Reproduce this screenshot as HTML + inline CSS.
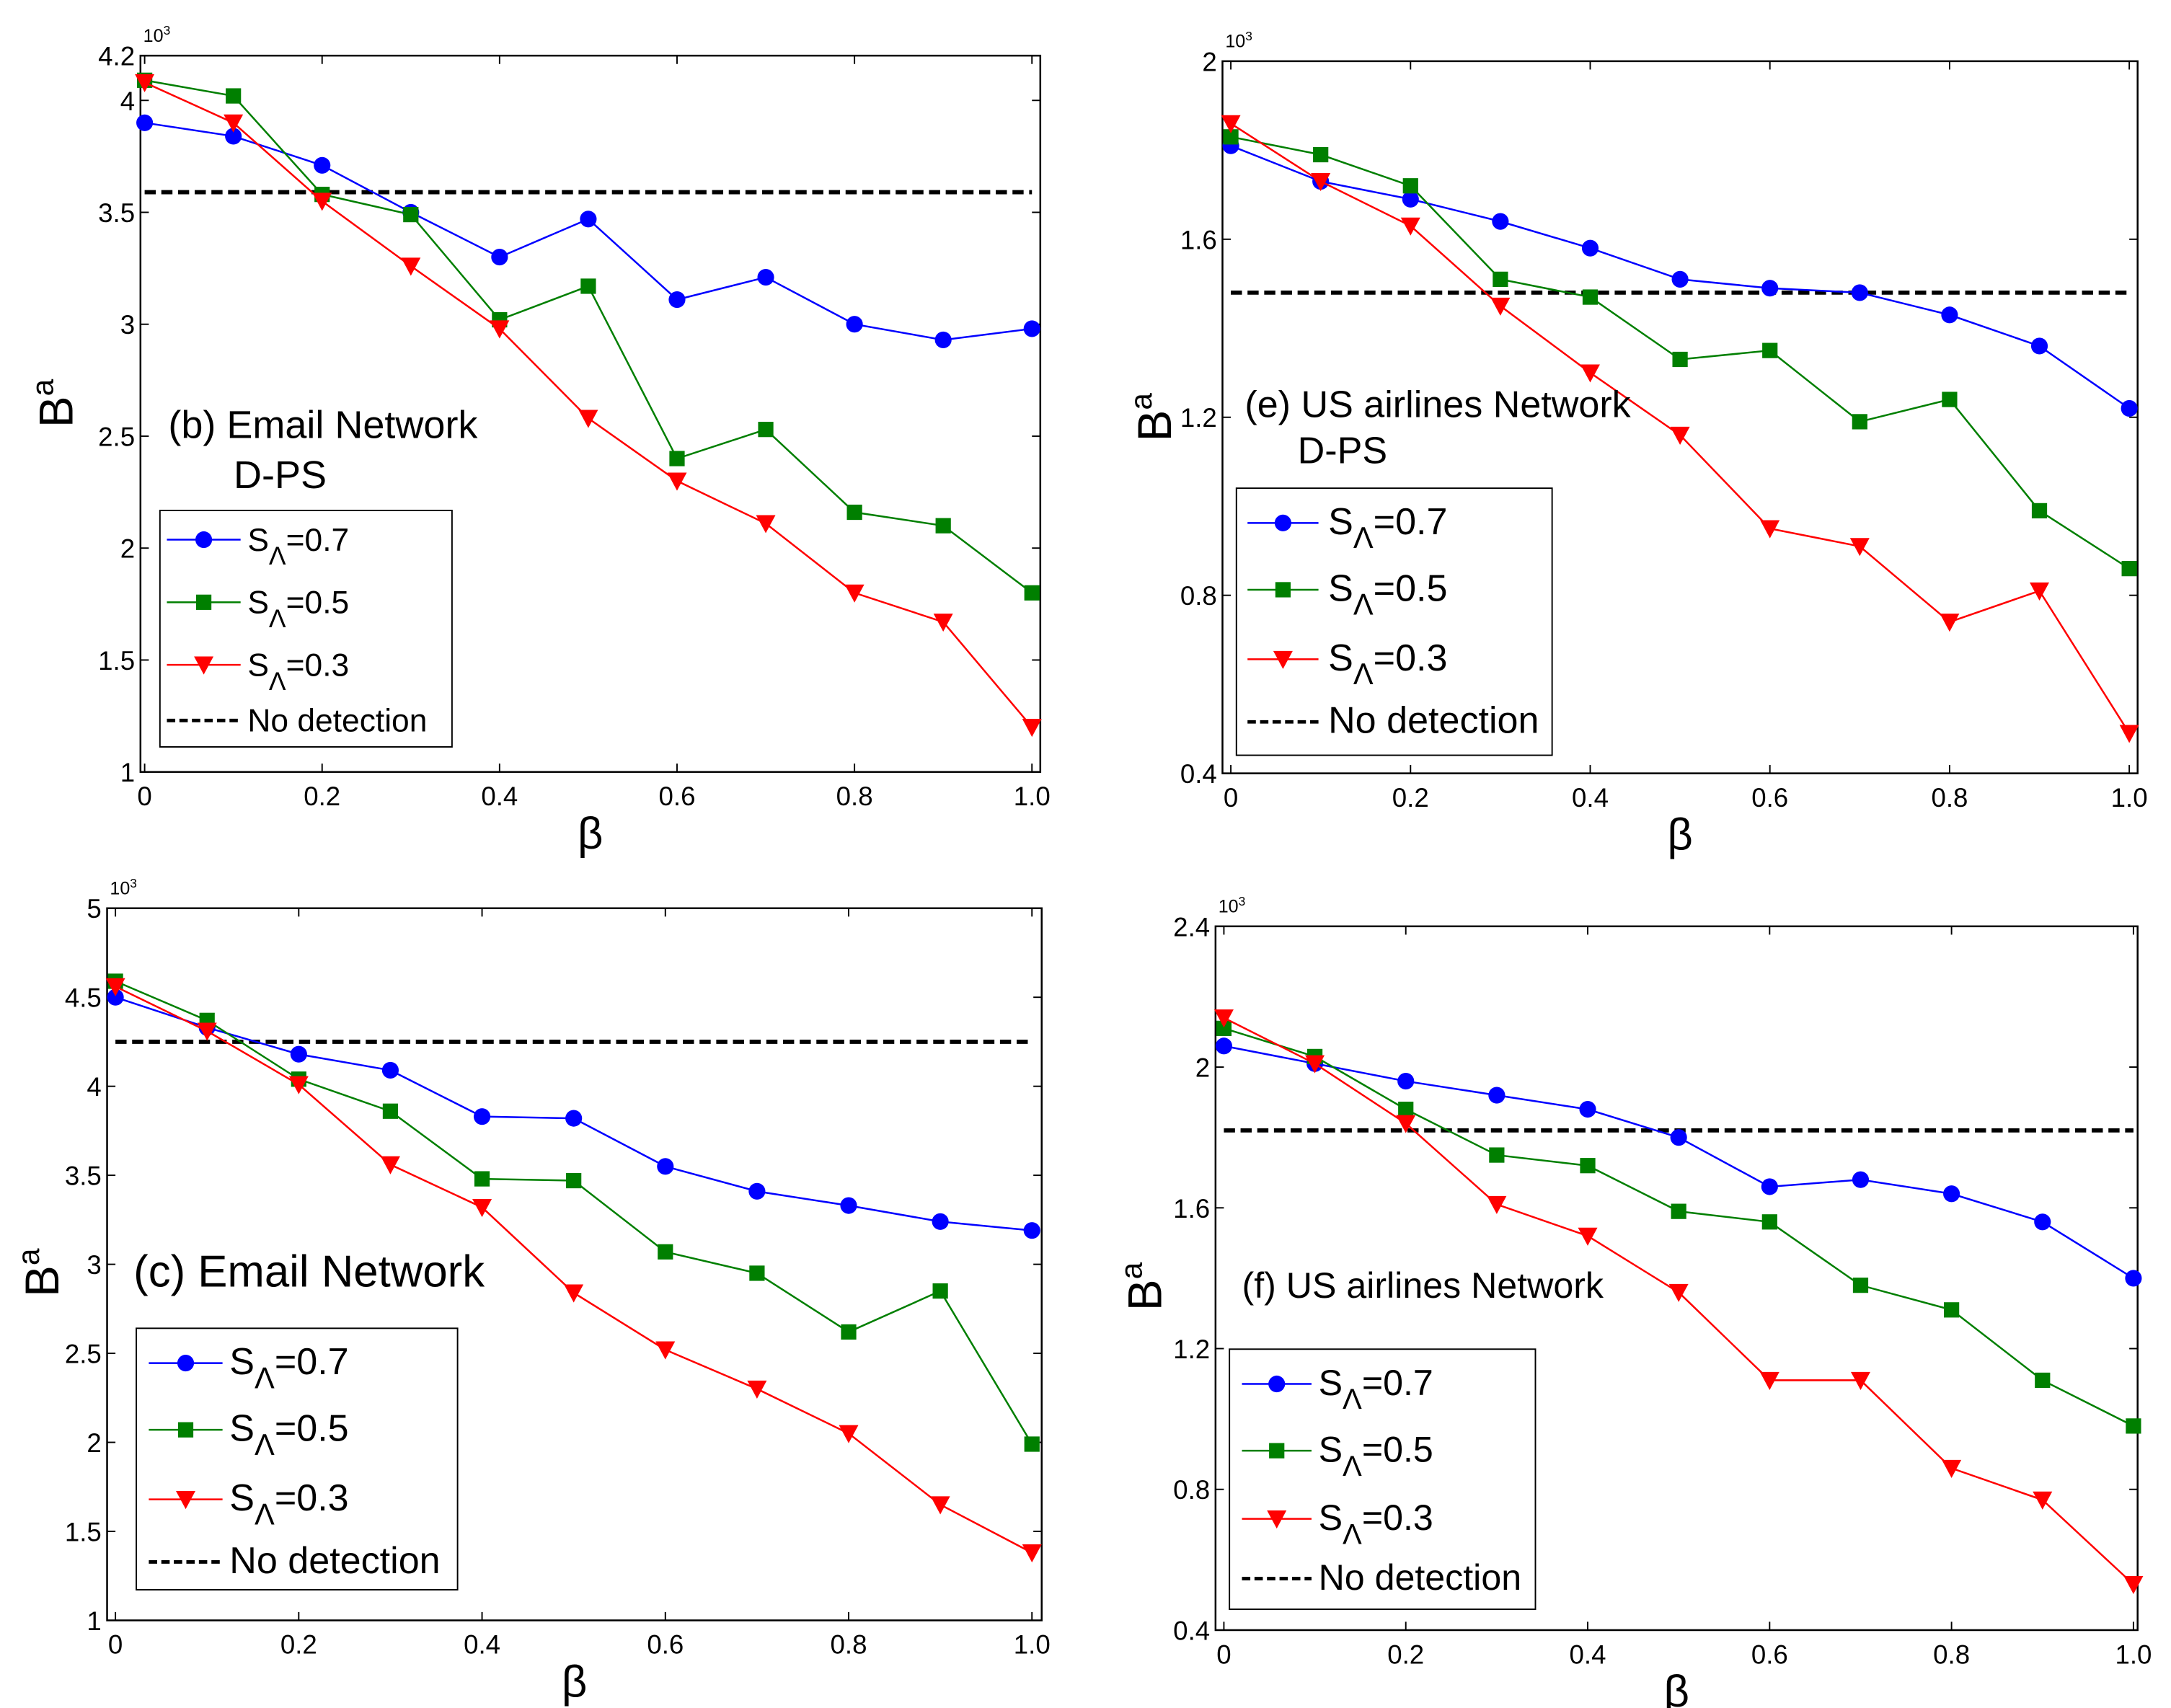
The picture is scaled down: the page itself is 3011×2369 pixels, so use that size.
<!DOCTYPE html>
<html><head><meta charset="utf-8"><style>
html,body{margin:0;padding:0;background:#fff;}
svg{display:block;font-family:"Liberation Sans",Arial,sans-serif;}
</style></head><body>
<svg id="fig" width="3011" height="2369" viewBox="0 0 1561 1228" preserveAspectRatio="none" xmlns="http://www.w3.org/2000/svg"></svg>
<script>
const betas = [0,0.1,0.2,0.3,0.4,0.5,0.6,0.7,0.8,0.9,1.0];
const xTickLabels = ["0","0.2","0.4","0.6","0.8","1.0"];
const xTickValues = [0,0.2,0.4,0.6,0.8,1.0];
// Panel b
const bBlue = [3.9,3.84,3.71,3.5,3.3,3.47,3.11,3.21,3.0,2.93,2.98];
const bGreen = [4.09,4.02,3.58,3.49,3.02,3.17,2.4,2.53,2.16,2.1,1.8];
const bRed = [4.08,3.9,3.55,3.26,2.98,2.58,2.3,2.11,1.8,1.67,1.2];
const bNoDet = 3.59;
const bYTicks = [1,1.5,2,2.5,3,3.5,4,4.2];
const bYLabels = ["1","1.5","2","2.5","3","3.5","4","4.2"];
// Panel e
const eBlue = [1.81,1.73,1.69,1.64,1.58,1.51,1.49,1.48,1.43,1.36,1.22];
const eGreen = [1.83,1.79,1.72,1.51,1.47,1.33,1.35,1.19,1.24,0.99,0.86];
const eRed = [1.86,1.73,1.63,1.45,1.30,1.16,0.95,0.91,0.74,0.81,0.49];
const eNoDet = 1.48;
const eYTicks = [0.4,0.8,1.2,1.6,2.0];
const eYLabels = ["0.4","0.8","1.2","1.6","2"];
// Panel c
const cBlue = [4.5,4.33,4.18,4.09,3.83,3.82,3.55,3.41,3.33,3.24,3.19];
const cGreen = [4.59,4.37,4.04,3.86,3.48,3.47,3.07,2.95,2.62,2.85,1.99];
const cRed = [4.56,4.31,4.01,3.56,3.32,2.84,2.52,2.3,2.05,1.65,1.38];
const cNoDet = 4.25;
const cYTicks = [1,1.5,2,2.5,3,3.5,4,4.5,5];
const cYLabels = ["1","1.5","2","2.5","3","3.5","4","4.5","5"];
// Panel f
const fBlue = [2.06,2.01,1.96,1.92,1.88,1.80,1.66,1.68,1.64,1.56,1.40];
const fGreen = [2.11,2.03,1.88,1.75,1.72,1.59,1.56,1.38,1.31,1.11,0.98];
const fRed = [2.14,2.01,1.84,1.61,1.52,1.36,1.11,1.11,0.86,0.77,0.53];
const fNoDet = 1.82;
const fYTicks = [0.4,0.8,1.2,1.6,2.0,2.4];
const fYLabels = ["0.4","0.8","1.2","1.6","2","2.4"];
const seriesLabels = ["0.7","0.5","0.3"];

const NS="http://www.w3.org/2000/svg";
const svg=document.getElementById('fig');
function mk(tag,attrs,parent,text){const e=document.createElementNS(NS,tag);for(const k in attrs)e.setAttribute(k,attrs[k]);if(text!==undefined)e.textContent=text;(parent||svg).appendChild(e);return e;}

function marker(g,type,x,y,color,s){
  let m;
  if(type==='c') m=mk('circle',{cx:x,cy:y,r:6*s,fill:color},g);
  else if(type==='s') m=mk('rect',{x:x-5.5*s,y:y-5.5*s,width:11*s,height:11*s,fill:color},g);
  else m=mk('polygon',{points:`${x-7*s},${y-6*s} ${x+7*s},${y-6*s} ${x},${y+7*s}`,fill:color},g);
  return m;
}

function panel(p){
  const g=mk('g',{});
  
  
  const X=v=>p.x0+(p.x1-p.x0)*v;
  const Y=v=>p.yb-(p.yb-p.yt)*(v-p.ymin)/(p.ymax-p.ymin);
  const box=mk('rect',{x:p.bl,y:p.yt,width:p.br-p.bl,height:p.yb-p.yt,fill:'none',stroke:'#000','stroke-width':1.3},g);
  
  
  xTickValues.forEach((v,i)=>{
    mk('line',{x1:X(v),x2:X(v),y1:p.yb,y2:p.yb-6,stroke:'#000'},g);
    mk('line',{x1:X(v),x2:X(v),y1:p.yt,y2:p.yt+6,stroke:'#000'},g);
    const t=mk('text',{x:X(v),y:p.yb+24,'font-size':19,'text-anchor':'middle'},g,xTickLabels[i]);
    
    
  });
  p.yt2.forEach((v,i)=>{
    mk('line',{x1:p.bl,x2:p.bl+6,y1:Y(v),y2:Y(v),stroke:'#000'},g);
    mk('line',{x1:p.br,x2:p.br-6,y1:Y(v),y2:Y(v),stroke:'#000'},g);
    const t=mk('text',{x:p.bl-4,y:Y(v)+7,'font-size':19,'text-anchor':'end'},g,p.yl[i]);
    
    
  });
  const ex=mk('text',{x:p.bl+2,y:p.yt-10,'font-size':13},g,'10');
  
  
  mk('tspan',{dy:-5,'font-size':9},ex,'3');
  const xl=mk('text',{x:(p.bl+p.br)/2,y:p.yb+55,'font-size':32,'text-anchor':'middle'},g,'β');
  
  
  const yl=mk('text',{x:0,y:0,'font-size':34,transform:`translate(${p.ylx},${p.yly}) rotate(-90)`,'text-anchor':'middle'},g,'B');
  
  
  mk('tspan',{dy:-14,'font-size':22},yl,'a');
  // no detection
  const nd=mk('line',{x1:X(0),x2:X(1),y1:Y(p.nd),y2:Y(p.nd),stroke:'#000','stroke-width':3,'stroke-dasharray':'8,4'},g);
  
  
  const ser=[[p.blue,'#0000ff','c','series-s07'],[p.green,'#007f00','s','series-s05'],[p.red,'#ff0000','t','series-s03']];
  ser.forEach(([d,col,mt,nm])=>{
    const sg=mk('g',{},g);
    
    
    mk('polyline',{points:d.map((v,i)=>X(betas[i])+','+Y(v)).join(' '),fill:'none',stroke:col,'stroke-width':1.3},sg);
    d.forEach((v,i)=>{const m=marker(sg,mt,X(betas[i]),Y(v),col,1);
      
      });
  });
  // title
  p.titles.forEach(t=>{const e=mk('text',{x:t[0],y:t[1],'font-size':p.tfs},g,t[2]);
    
    });
  // legend
  const L=p.leg;
  const lg=mk('g',{},g);
  
  
  mk('rect',{x:L.x,y:L.y,width:L.w,height:L.h,fill:'#fff',stroke:'#000','stroke-width':1},lg);
  const cols=['#0000ff','#007f00','#ff0000'],mts=['c','s','t'];
  for(let i=0;i<3;i++){
    const yy=L.ys[i];
    const eg=mk('g',{},lg);
    
    
    mk('line',{x1:L.lx1,x2:L.lx2,y1:yy,y2:yy,stroke:cols[i],'stroke-width':1.3},eg);
    marker(eg,mts[i],(L.lx1+L.lx2)/2,yy,cols[i],1);
    const t=mk('text',{x:L.tx,y:yy+8,'font-size':L.fs},eg,'S');
    mk('tspan',{dy:10,'font-size':L.fs*0.8},t,'Λ');
    mk('tspan',{dy:-10},t,'='+seriesLabels[i]);
  }
  const eg=mk('g',{},lg);
  
  
  mk('line',{x1:L.lx1,x2:L.lx2,y1:L.ys[3],y2:L.ys[3],stroke:'#000','stroke-width':2.5,'stroke-dasharray':'6,3'},eg);
  mk('text',{x:L.tx,y:L.ys[3]+8,'font-size':L.fs},eg,'No detection');
}

panel({name:'panel-b-email-dps',x0:104,x1:742,bl:101,br:748,yt:40,yb:555,ymin:1,ymax:4.2,
  yt2:bYTicks,yl:bYLabels,blue:bBlue,green:bGreen,red:bRed,nd:bNoDet,ylx:52,yly:290,
  titles:[[121,315,'(b) Email Network'],[168,351,'D-PS']],tfs:28,
  leg:{x:115,y:367,w:210,h:170,ys:[388,433,478,518],lx1:120,lx2:173,tx:178,fs:23}});
panel({name:'panel-e-airlines-dps',x0:885,x1:1531,bl:879,br:1537,yt:44,yb:556,ymin:0.4,ymax:2.0,
  yt2:eYTicks,yl:eYLabels,blue:eBlue,green:eGreen,red:eRed,nd:eNoDet,ylx:842,yly:300,
  titles:[[895,300,'(e) US airlines Network'],[933,333,'D-PS']],tfs:27,
  leg:{x:889,y:351,w:227,h:192,ys:[376,424,474,519],lx1:897,lx2:948,tx:955,fs:27}});
panel({name:'panel-c-email',x0:83,x1:742,bl:77,br:749,yt:653,yb:1165,ymin:1,ymax:5,
  yt2:cYTicks,yl:cYLabels,blue:cBlue,green:cGreen,red:cRed,nd:cNoDet,ylx:42,yly:915,
  titles:[[96,925,'(c) Email Network']],tfs:32,
  leg:{x:98,y:955,w:231,h:188,ys:[980,1028,1078,1123],lx1:107,lx2:160,tx:165,fs:27}});
panel({name:'panel-f-airlines',x0:880,x1:1534,bl:874,br:1537,yt:666,yb:1172,ymin:0.4,ymax:2.4,
  yt2:fYTicks,yl:fYLabels,blue:fBlue,green:fGreen,red:fRed,nd:fNoDet,ylx:835,yly:925,
  titles:[[893,933,'(f) US airlines Network']],tfs:26,
  leg:{x:884,y:970,w:220,h:187,ys:[995,1043,1092,1135],lx1:893,lx2:943,tx:948,fs:26}});
</script>
</body></html>
